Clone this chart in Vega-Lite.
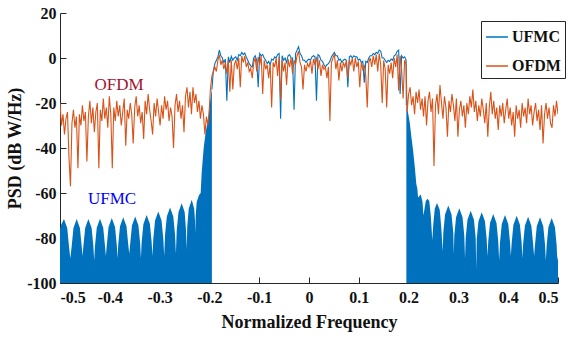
{
  "$schema": "https://vega.github.io/schema/vega-lite/v6.json",
  "autosize": "none",
  "width": 498,
  "height": 270,
  "padding": {"left": 60, "top": 13, "right": 11, "bottom": 64},
  "background": "white",
  "config": {
    "view": {"stroke": null},
    "axis": {"domainColor": "#262626", "tickColor": "#262626", "labelFont": "Liberation Serif", "labelFontWeight": "bold", "labelFontSize": 16, "labelColor": "#111", "titleFont": "Liberation Serif", "titleFontWeight": "bold", "titleFontSize": 18, "titleColor": "#111", "grid": false, "tickSize": -6, "domainWidth": 1, "tickWidth": 1}
  },
  "datasets": {
    "ufmcL": [
      {"f":-0.5,"p":-76},{"f":-0.4975,"p":-74},{"f":-0.492,"p":-71.6},{"f":-0.4855,"p":-75.6},{"f":-0.482,"p":-83.6},{"f":-0.4793,"p":-89},
      {"f":-0.4765,"p":-83.6},{"f":-0.473,"p":-75.6},{"f":-0.4665,"p":-71.6},{"f":-0.46,"p":-75.6},{"f":-0.4565,"p":-83.6},{"f":-0.4548,"p":-88},
      {"f":-0.453,"p":-83.5},{"f":-0.4495,"p":-75.5},{"f":-0.443,"p":-71.5},{"f":-0.4365,"p":-75.5},{"f":-0.433,"p":-83.5},{"f":-0.4314,"p":-90},
      {"f":-0.4297,"p":-83.4},{"f":-0.4262,"p":-75.4},{"f":-0.4197,"p":-71.4},{"f":-0.4132,"p":-75.4},{"f":-0.4097,"p":-83.4},{"f":-0.4079,"p":-88},
      {"f":-0.406,"p":-83.1},{"f":-0.4025,"p":-75.1},{"f":-0.396,"p":-71.1},{"f":-0.3895,"p":-75.1},{"f":-0.386,"p":-83.1},{"f":-0.3845,"p":-89},
      {"f":-0.383,"p":-82.8},{"f":-0.3795,"p":-74.8},{"f":-0.373,"p":-70.8},{"f":-0.3665,"p":-74.8},{"f":-0.363,"p":-82.8},{"f":-0.361,"p":-87},
      {"f":-0.359,"p":-82.4},{"f":-0.3555,"p":-74.4},{"f":-0.349,"p":-70.4},{"f":-0.3425,"p":-74.4},{"f":-0.339,"p":-82.4},{"f":-0.3375,"p":-89},
      {"f":-0.336,"p":-81.8},{"f":-0.3325,"p":-73.8},{"f":-0.326,"p":-69.8},{"f":-0.3195,"p":-73.8},{"f":-0.316,"p":-81.8},{"f":-0.3143,"p":-88},
      {"f":-0.3126,"p":-80.2},{"f":-0.3091,"p":-72.2},{"f":-0.3026,"p":-68.2},{"f":-0.2961,"p":-72.2},{"f":-0.2926,"p":-80.2},{"f":-0.2908,"p":-88},
      {"f":-0.289,"p":-78.4},{"f":-0.2855,"p":-70.4},{"f":-0.279,"p":-66.4},{"f":-0.2725,"p":-70.4},{"f":-0.269,"p":-78.4},{"f":-0.2673,"p":-87},
      {"f":-0.2656,"p":-76.5},{"f":-0.2621,"p":-68.5},{"f":-0.2556,"p":-64.5},{"f":-0.2496,"p":-68.5},{"f":-0.247,"p":-76.5},{"f":-0.2456,"p":-85},
      {"f":-0.2445,"p":-75},{"f":-0.2415,"p":-67},{"f":-0.2355,"p":-63},{"f":-0.2305,"p":-67},{"f":-0.229,"p":-72},{"f":-0.2283,"p":-78},
      {"f":-0.2275,"p":-70},{"f":-0.2255,"p":-64},{"f":-0.221,"p":-61},{"f":-0.2175,"p":-60},{"f":-0.2155,"p":-51},{"f":-0.2115,"p":-40},
      {"f":-0.2075,"p":-33},{"f":-0.2015,"p":-26},{"f":-0.199,"p":-20},{"f":-0.1955,"p":-14},{"f":-0.195,"p":-14}
    ],
    "ufmcR": [
      {"f":0.1955,"p":-21},{"f":0.1995,"p":-25},{"f":0.2025,"p":-29},{"f":0.2055,"p":-35},{"f":0.209,"p":-41},{"f":0.2125,"p":-48.5},{"f":0.2155,"p":-56},{"f":0.2175,"p":-58},
      {"f":0.219,"p":-62},{"f":0.2243,"p":-60.7},{"f":0.228,"p":-64},{"f":0.2296,"p":-70},
      {"f":0.232,"p":-67},{"f":0.2345,"p":-63.5},{"f":0.238,"p":-62.6},{"f":0.2415,"p":-63.5},{"f":0.2445,"p":-70},{"f":0.2476,"p":-81},
      {"f":0.2495,"p":-74},{"f":0.2525,"p":-67},{"f":0.257,"p":-64.4},{"f":0.2625,"p":-67.4},{"f":0.2655,"p":-75},{"f":0.2685,"p":-86},
      {"f":0.2697,"p":-77.6},{"f":0.2732,"p":-69.6},{"f":0.2797,"p":-65.6},{"f":0.2862,"p":-69.6},{"f":0.2897,"p":-77.6},{"f":0.2908,"p":-87},
      {"f":0.2918,"p":-78.8},{"f":0.2953,"p":-70.8},{"f":0.3018,"p":-66.8},{"f":0.3083,"p":-70.8},{"f":0.3118,"p":-78.8},{"f":0.3133,"p":-89},
      {"f":0.3147,"p":-79.9},{"f":0.3182,"p":-71.9},{"f":0.3247,"p":-67.9},{"f":0.3312,"p":-71.9},{"f":0.3347,"p":-79.9},{"f":0.3358,"p":-94},
      {"f":0.3368,"p":-80.6},{"f":0.3403,"p":-72.6},{"f":0.3468,"p":-68.6},{"f":0.3533,"p":-72.6},{"f":0.3568,"p":-80.6},{"f":0.3584,"p":-88},
      {"f":0.36,"p":-81.3},{"f":0.3635,"p":-73.3},{"f":0.37,"p":-69.3},{"f":0.3765,"p":-73.3},{"f":0.38,"p":-81.3},{"f":0.3818,"p":-90},
      {"f":0.3836,"p":-81.8},{"f":0.3871,"p":-73.8},{"f":0.3936,"p":-69.8},{"f":0.4001,"p":-73.8},{"f":0.4036,"p":-81.8},{"f":0.4053,"p":-88},
      {"f":0.407,"p":-82.1},{"f":0.4105,"p":-74.1},{"f":0.417,"p":-70.1},{"f":0.4235,"p":-74.1},{"f":0.427,"p":-82.1},{"f":0.4285,"p":-89},
      {"f":0.43,"p":-82.5},{"f":0.4335,"p":-74.5},{"f":0.44,"p":-70.5},{"f":0.4465,"p":-74.5},{"f":0.45,"p":-82.5},{"f":0.452,"p":-88},
      {"f":0.4539,"p":-82.8},{"f":0.4574,"p":-74.8},{"f":0.4639,"p":-70.8},{"f":0.4704,"p":-74.8},{"f":0.4739,"p":-82.8},{"f":0.4756,"p":-90},
      {"f":0.4773,"p":-83.1},{"f":0.4808,"p":-75.1},{"f":0.4873,"p":-71.1},{"f":0.4938,"p":-75.1},{"f":0.4973,"p":-83.1},{"f":0.4985,"p":-90},{"f":0.5,"p":-88}
    ],
    "ufmcIn": [
      {"f":-0.195,"p":-14},{"f":-0.192,"p":-5.5},{"f":-0.189,"p":-2.5},{"f":-0.186,"p":-1},{"f":-0.183,"p":0.5},{"f":-0.18,"p":3.5},{"f":-0.177,"p":1},{"f":-0.174,"p":0},{"f":-0.171,"p":-2},{"f":-0.168,"p":-0.5},
      {"f":-0.165,"p":-19},{"f":-0.162,"p":0.5},{"f":-0.159,"p":-2},{"f":-0.156,"p":0.7},{"f":-0.153,"p":-1},{"f":-0.15,"p":0},{"f":-0.147,"p":0.5},{"f":-0.144,"p":-1},{"f":-0.141,"p":1.5},{"f":-0.138,"p":1},
      {"f":-0.135,"p":2.5},{"f":-0.132,"p":1.5},{"f":-0.129,"p":2.2},{"f":-0.126,"p":0.5},{"f":-0.123,"p":-1},{"f":-0.12,"p":-2.5},{"f":-0.117,"p":-3.5},{"f":-0.114,"p":-4},{"f":-0.111,"p":0},{"f":-0.108,"p":1},
      {"f":-0.105,"p":-1},{"f":-0.102,"p":-13},{"f":-0.099,"p":2},{"f":-0.096,"p":1},{"f":-0.093,"p":1.5},{"f":-0.09,"p":0},{"f":-0.087,"p":-1},{"f":-0.084,"p":-2.5},{"f":-0.081,"p":-1.5},{"f":-0.078,"p":-3},
      {"f":-0.075,"p":-0.5},{"f":-0.072,"p":-1},{"f":-0.069,"p":0.5},{"f":-0.066,"p":0},{"f":-0.063,"p":1.5},{"f":-0.06,"p":2},{"f":-0.057,"p":-27},{"f":-0.054,"p":1},{"f":-0.051,"p":-1},{"f":-0.048,"p":0},
      {"f":-0.045,"p":-2},{"f":-0.042,"p":1},{"f":-0.039,"p":1.5},{"f":-0.036,"p":0},{"f":-0.033,"p":0},{"f":-0.03,"p":-23},{"f":-0.027,"p":2},{"f":-0.024,"p":3.5},{"f":-0.021,"p":5},{"f":-0.018,"p":2},
      {"f":-0.015,"p":1},{"f":-0.012,"p":-1},{"f":-0.009,"p":-1},{"f":-0.006,"p":-2},{"f":-0.003,"p":-1},{"f":0,"p":-0.5},{"f":0.003,"p":-1},{"f":0.006,"p":0.5},{"f":0.009,"p":1},{"f":0.012,"p":0.5},
      {"f":0.015,"p":-19},{"f":0.018,"p":1.5},{"f":0.021,"p":1},{"f":0.024,"p":-1},{"f":0.027,"p":-1.5},{"f":0.03,"p":-3},{"f":0.033,"p":-4},{"f":0.036,"p":-3},{"f":0.039,"p":-2.5},{"f":0.042,"p":-1.5},
      {"f":0.045,"p":0.5},{"f":0.048,"p":1.5},{"f":0.051,"p":2.5},{"f":0.054,"p":1},{"f":0.057,"p":1},{"f":0.06,"p":-1},{"f":0.063,"p":-0.5},{"f":0.066,"p":-2},{"f":0.069,"p":-1},{"f":0.072,"p":-0.5},
      {"f":0.075,"p":-1},{"f":0.078,"p":-13},{"f":0.081,"p":0.5},{"f":0.084,"p":1},{"f":0.087,"p":0},{"f":0.09,"p":1},{"f":0.093,"p":0.5},{"f":0.096,"p":0.5},{"f":0.099,"p":-1},{"f":0.102,"p":-0.5},
      {"f":0.105,"p":-2},{"f":0.108,"p":-1.5},{"f":0.111,"p":-11},{"f":0.114,"p":-1.5},{"f":0.117,"p":-2},{"f":0.12,"p":0},{"f":0.123,"p":1},{"f":0.126,"p":1},{"f":0.129,"p":2},{"f":0.132,"p":1.5},
      {"f":0.135,"p":2.5},{"f":0.138,"p":2},{"f":0.141,"p":3.5},{"f":0.144,"p":3},{"f":0.147,"p":0},{"f":0.15,"p":0},{"f":0.153,"p":-1},{"f":0.156,"p":-2},{"f":0.159,"p":-1},{"f":0.162,"p":-1.5},
      {"f":0.165,"p":-0.5},{"f":0.168,"p":-1},{"f":0.171,"p":1},{"f":0.174,"p":1.5},{"f":0.177,"p":3},{"f":0.18,"p":3.5},{"f":0.183,"p":-16},{"f":0.186,"p":1},{"f":0.189,"p":0},{"f":0.192,"p":0.5},
      {"f":0.195,"p":-1},{"f":0.1955,"p":-21}
    ],
    "ofdm": [
      {"f":-0.5,"p":-20},{"f":-0.497,"p":-30},{"f":-0.494,"p":-25},{"f":-0.491,"p":-34},{"f":-0.488,"p":-27},{"f":-0.485,"p":-24},{"f":-0.482,"p":-44},{"f":-0.479,"p":-57},{"f":-0.476,"p":-29},{"f":-0.473,"p":-23},
      {"f":-0.47,"p":-31},{"f":-0.467,"p":-26},{"f":-0.464,"p":-49},{"f":-0.461,"p":-25},{"f":-0.458,"p":-30},{"f":-0.455,"p":-21},{"f":-0.452,"p":-28},{"f":-0.449,"p":-24},{"f":-0.446,"p":-46},{"f":-0.443,"p":-26},
      {"f":-0.44,"p":-19},{"f":-0.437,"p":-29},{"f":-0.434,"p":-22},{"f":-0.431,"p":-33},{"f":-0.428,"p":-24},{"f":-0.425,"p":-20},{"f":-0.422,"p":-49},{"f":-0.419,"p":-23},{"f":-0.416,"p":-28},{"f":-0.413,"p":-18},
      {"f":-0.41,"p":-27},{"f":-0.407,"p":-22},{"f":-0.404,"p":-31},{"f":-0.401,"p":-17},{"f":-0.398,"p":-25},{"f":-0.395,"p":-49},{"f":-0.392,"p":-22},{"f":-0.389,"p":-28},{"f":-0.386,"p":-19},{"f":-0.383,"p":-26},
      {"f":-0.38,"p":-21},{"f":-0.377,"p":-30},{"f":-0.374,"p":-24},{"f":-0.371,"p":-18},{"f":-0.368,"p":-39},{"f":-0.365,"p":-23},{"f":-0.362,"p":-27},{"f":-0.359,"p":-20},{"f":-0.356,"p":-25},{"f":-0.353,"p":-38},
      {"f":-0.35,"p":-22},{"f":-0.347,"p":-17},{"f":-0.344,"p":-26},{"f":-0.341,"p":-21},{"f":-0.338,"p":-29},{"f":-0.335,"p":-24},{"f":-0.332,"p":-36},{"f":-0.329,"p":-19},{"f":-0.326,"p":-25},{"f":-0.323,"p":-16},
      {"f":-0.32,"p":-23},{"f":-0.317,"p":-28},{"f":-0.314,"p":-34},{"f":-0.311,"p":-20},{"f":-0.308,"p":-26},{"f":-0.305,"p":-18},{"f":-0.302,"p":-24},{"f":-0.299,"p":-30},{"f":-0.296,"p":-21},{"f":-0.293,"p":-27},
      {"f":-0.29,"p":-17},{"f":-0.287,"p":-23},{"f":-0.284,"p":-19},{"f":-0.281,"p":-28},{"f":-0.278,"p":-22},{"f":-0.275,"p":-26},{"f":-0.272,"p":-40},{"f":-0.269,"p":-21},{"f":-0.266,"p":-16},{"f":-0.263,"p":-24},
      {"f":-0.26,"p":-19},{"f":-0.257,"p":-27},{"f":-0.254,"p":-21},{"f":-0.251,"p":-33},{"f":-0.248,"p":-17},{"f":-0.245,"p":-13},{"f":-0.242,"p":-22},{"f":-0.239,"p":-15},{"f":-0.236,"p":-25},{"f":-0.233,"p":-13},
      {"f":-0.23,"p":-20},{"f":-0.227,"p":-16},{"f":-0.224,"p":-24},{"f":-0.221,"p":-19},{"f":-0.218,"p":-27},{"f":-0.215,"p":-21},{"f":-0.212,"p":-25},{"f":-0.209,"p":-34},{"f":-0.206,"p":-26},{"f":-0.203,"p":-30},
      {"f":-0.2,"p":-22},{"f":-0.198,"p":-14},
      {"f":-0.195,"p":-8},{"f":-0.192,"p":-6},{"f":-0.189,"p":-4},{"f":-0.186,"p":-6},{"f":-0.183,"p":-1},{"f":-0.18,"p":1.5},{"f":-0.177,"p":-3},{"f":-0.174,"p":-1},{"f":-0.171,"p":-5},{"f":-0.168,"p":-2},
      {"f":-0.165,"p":-7},{"f":-0.162,"p":-1},{"f":-0.159,"p":-15},{"f":-0.156,"p":-1},{"f":-0.153,"p":-14},{"f":-0.15,"p":-3},{"f":-0.147,"p":-1},{"f":-0.144,"p":-5},{"f":-0.141,"p":0},{"f":-0.138,"p":-13},
      {"f":-0.135,"p":1},{"f":-0.132,"p":-2},{"f":-0.129,"p":1},{"f":-0.126,"p":-4},{"f":-0.123,"p":-2},{"f":-0.12,"p":-6},{"f":-0.117,"p":-4.5},{"f":-0.114,"p":-9},{"f":-0.111,"p":-2},{"f":-0.108,"p":0},
      {"f":-0.105,"p":-6},{"f":-0.102,"p":0.5},{"f":-0.099,"p":-3},{"f":-0.096,"p":1},{"f":-0.093,"p":-16},{"f":-0.09,"p":-1},{"f":-0.087,"p":-5},{"f":-0.084,"p":-3},{"f":-0.081,"p":-9},{"f":-0.078,"p":-2.5},
      {"f":-0.075,"p":-22},{"f":-0.072,"p":-2},{"f":-0.069,"p":-4},{"f":-0.066,"p":0},{"f":-0.063,"p":-8},{"f":-0.06,"p":0.5},{"f":-0.057,"p":-19},{"f":-0.054,"p":-1},{"f":-0.051,"p":-6},{"f":-0.048,"p":-2},
      {"f":-0.045,"p":-12},{"f":-0.042,"p":-0.5},{"f":-0.039,"p":-4},{"f":-0.036,"p":0},{"f":-0.033,"p":-7},{"f":-0.03,"p":-1},{"f":-0.027,"p":-3},{"f":-0.024,"p":1},{"f":-0.021,"p":3},{"f":-0.018,"p":-2},
      {"f":-0.015,"p":-4},{"f":-0.012,"p":-14},{"f":-0.009,"p":-3},{"f":-0.006,"p":-6},{"f":-0.003,"p":-2.5},{"f":0,"p":-4},{"f":0.003,"p":-1},{"f":0.006,"p":-7},{"f":0.009,"p":-0.5},{"f":0.012,"p":-3},
      {"f":0.015,"p":0.5},{"f":0.018,"p":-5},{"f":0.021,"p":-1},{"f":0.024,"p":-8},{"f":0.027,"p":-3},{"f":0.03,"p":-5},{"f":0.033,"p":-4},{"f":0.036,"p":-9},{"f":0.039,"p":-4},{"f":0.042,"p":-28},
      {"f":0.045,"p":-2},{"f":0.048,"p":0},{"f":0.051,"p":1.5},{"f":0.054,"p":-5},{"f":0.057,"p":-1},{"f":0.06,"p":-10},{"f":0.063,"p":-2},{"f":0.066,"p":-6},{"f":0.069,"p":-2},{"f":0.072,"p":-4},
      {"f":0.075,"p":-1},{"f":0.078,"p":-9},{"f":0.081,"p":-1},{"f":0.084,"p":-3},{"f":0.087,"p":0},{"f":0.09,"p":-6},{"f":0.093,"p":0},{"f":0.096,"p":-4},{"f":0.099,"p":-1.5},{"f":0.102,"p":-13},
      {"f":0.105,"p":-2},{"f":0.108,"p":-5},{"f":0.111,"p":-3},{"f":0.114,"p":-8},{"f":0.117,"p":-22},{"f":0.12,"p":-2},{"f":0.123,"p":0},{"f":0.126,"p":-4},{"f":0.129,"p":1},{"f":0.132,"p":-3},
      {"f":0.135,"p":1.5},{"f":0.138,"p":-6},{"f":0.141,"p":2},{"f":0.144,"p":-3},{"f":0.147,"p":-20},{"f":0.15,"p":-1},{"f":0.153,"p":-5},{"f":0.156,"p":-22},{"f":0.159,"p":-3},{"f":0.162,"p":-7},
      {"f":0.165,"p":-2},{"f":0.168,"p":-9},{"f":0.171,"p":0},{"f":0.174,"p":-4},{"f":0.177,"p":1.5},{"f":0.18,"p":-14.5},{"f":0.183,"p":1},{"f":0.186,"p":-5},{"f":0.189,"p":-18},{"f":0.192,"p":-1},
      {"f":0.195,"p":-3},{"f":0.197,"p":-24},
      {"f":0.2,"p":-16},{"f":0.203,"p":-13},{"f":0.206,"p":-21},{"f":0.209,"p":-17},{"f":0.212,"p":-25},{"f":0.215,"p":-15},{"f":0.218,"p":-20},{"f":0.221,"p":-14},{"f":0.224,"p":-23},{"f":0.227,"p":-18},
      {"f":0.23,"p":-26},{"f":0.233,"p":-17},{"f":0.236,"p":-30},{"f":0.239,"p":-19},{"f":0.242,"p":-15},{"f":0.245,"p":-24},{"f":0.248,"p":-18},{"f":0.251,"p":-48},{"f":0.254,"p":-21},{"f":0.257,"p":-16},
      {"f":0.26,"p":-25},{"f":0.263,"p":-12},{"f":0.266,"p":-20},{"f":0.269,"p":-27},{"f":0.272,"p":-17},{"f":0.275,"p":-22},{"f":0.278,"p":-35},{"f":0.281,"p":-19},{"f":0.284,"p":-24},{"f":0.287,"p":-16},
      {"f":0.29,"p":-21},{"f":0.293,"p":-28},{"f":0.296,"p":-18},{"f":0.299,"p":-35},{"f":0.302,"p":-23},{"f":0.305,"p":-19},{"f":0.308,"p":-26},{"f":0.311,"p":-21},{"f":0.314,"p":-31},{"f":0.317,"p":-20},
      {"f":0.32,"p":-25},{"f":0.323,"p":-17},{"f":0.326,"p":-22},{"f":0.329,"p":-14},{"f":0.332,"p":-24},{"f":0.335,"p":-19},{"f":0.338,"p":-28},{"f":0.341,"p":-21},{"f":0.344,"p":-26},{"f":0.347,"p":-18},
      {"f":0.35,"p":-23},{"f":0.353,"p":-29},{"f":0.356,"p":-20},{"f":0.359,"p":-35},{"f":0.362,"p":-22},{"f":0.365,"p":-15},{"f":0.368,"p":-25},{"f":0.371,"p":-19},{"f":0.374,"p":-27},{"f":0.377,"p":-22},
      {"f":0.38,"p":-32},{"f":0.383,"p":-21},{"f":0.386,"p":-26},{"f":0.389,"p":-20},{"f":0.392,"p":-29},{"f":0.395,"p":-23},{"f":0.398,"p":-18},{"f":0.401,"p":-27},{"f":0.404,"p":-22},{"f":0.407,"p":-30},
      {"f":0.41,"p":-24},{"f":0.413,"p":-35},{"f":0.416,"p":-21},{"f":0.419,"p":-27},{"f":0.422,"p":-23},{"f":0.425,"p":-31},{"f":0.428,"p":-20},{"f":0.431,"p":-26},{"f":0.434,"p":-22},{"f":0.437,"p":-29},
      {"f":0.44,"p":-18},{"f":0.443,"p":-25},{"f":0.446,"p":-21},{"f":0.449,"p":-30},{"f":0.452,"p":-24},{"f":0.455,"p":-20},{"f":0.458,"p":-28},{"f":0.461,"p":-23},{"f":0.464,"p":-32},{"f":0.467,"p":-21},
      {"f":0.47,"p":-38},{"f":0.473,"p":-25},{"f":0.476,"p":-20},{"f":0.479,"p":-27},{"f":0.482,"p":-22},{"f":0.485,"p":-29},{"f":0.488,"p":-31},{"f":0.491,"p":-21},{"f":0.494,"p":-26},{"f":0.497,"p":-19},
      {"f":0.5,"p":-25}
    ],
    "notes": [
      {"f":-0.3815,"p":-11.8,"t":"OFDM","c":"#A2142F"},
      {"f":-0.3956,"p":-62.7,"t":"UFMC","c":"#0000FF"}
    ]
  },
  "encoding": {
    "x": {"field": "f", "type": "quantitative", "scale": {"domain": [-0.5, 0.5], "nice": false}, "axis": {"title": "Normalized Frequency", "values": [-0.5,-0.4,-0.3,-0.2,-0.1,0,0.1,0.2,0.3,0.4,0.5], "labelExpr": "'' + datum.value", "labelPadding": 12, "titlePadding": 8}},
    "y": {"field": "p", "type": "quantitative", "scale": {"domain": [-100, 20], "nice": false}, "axis": {"title": "PSD (dB W/Hz)", "values": [-100,-80,-60,-40,-20,0,20], "labelExpr": "'' + datum.value", "labelPadding": 10, "titlePadding": 2, "titleFontSize": 18}}
  },
  "layer": [
    {"data": {"name": "ufmcL"}, "mark": {"type": "area", "color": "#0072BD", "clip": true}, "encoding": {"y2": {"datum": -100}}},
    {"data": {"name": "ufmcR"}, "mark": {"type": "area", "color": "#0072BD", "clip": true}, "encoding": {"y2": {"datum": -100}}},
    {"data": {"name": "ufmcIn"}, "mark": {"type": "line", "strokeWidth": 1.1, "clip": true}, "encoding": {"color": {"datum": "UFMC", "scale": {"domain": ["UFMC", "OFDM"], "range": ["#0072BD", "#D95319"]}, "legend": {"title": null, "orient": "none", "legendX": 421, "legendY": 8, "direction": "vertical", "strokeColor": "#262626", "fillColor": "white", "padding": 4, "symbolType": "stroke", "symbolSize": 480, "symbolStrokeWidth": 1.5, "labelFont": "Liberation Serif", "labelFontWeight": "bold", "labelFontSize": 16, "labelColor": "#111", "rowPadding": 9, "labelOffset": 3}}}},
    {"data": {"name": "ofdm"}, "mark": {"type": "line", "strokeWidth": 1.1, "clip": true}, "encoding": {"color": {"datum": "OFDM"}}},
    {"data": {"name": "notes"}, "mark": {"type": "text", "font": "Liberation Serif", "fontSize": 17, "align": "center", "baseline": "middle"}, "encoding": {"text": {"field": "t"}, "color": {"field": "c", "type": "nominal", "scale": null, "legend": null}}}
  ]
}
